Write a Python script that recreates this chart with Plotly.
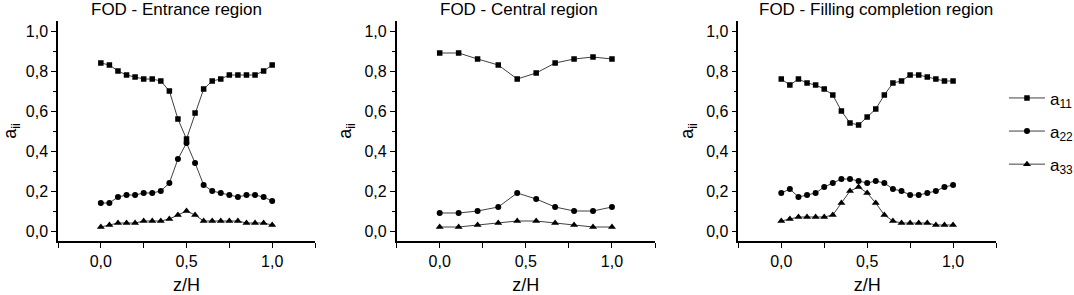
import plotly.graph_objects as go

# ---------------- data ----------------
z_fine = [0.0, 0.05, 0.10, 0.15, 0.20, 0.25, 0.30, 0.35, 0.40, 0.45, 0.50,
          0.55, 0.60, 0.65, 0.70, 0.75, 0.80, 0.85, 0.90, 0.95, 1.0]
z_central = [0.0, 0.11, 0.22, 0.34, 0.45, 0.56, 0.67, 0.78, 0.89, 1.0]

ent_a11 = [0.84, 0.83, 0.80, 0.78, 0.77, 0.76, 0.76, 0.75, 0.70, 0.56, 0.46,
           0.59, 0.71, 0.75, 0.76, 0.78, 0.78, 0.78, 0.78, 0.80, 0.83]
ent_a22 = [0.14, 0.14, 0.17, 0.18, 0.18, 0.19, 0.19, 0.20, 0.24, 0.36, 0.44,
           0.34, 0.23, 0.20, 0.19, 0.18, 0.17, 0.18, 0.18, 0.17, 0.15]
ent_a33 = [0.02, 0.03, 0.04, 0.04, 0.04, 0.05, 0.05, 0.05, 0.06, 0.08, 0.10,
           0.08, 0.05, 0.05, 0.05, 0.05, 0.05, 0.04, 0.04, 0.04, 0.03]

cen_a11 = [0.89, 0.89, 0.86, 0.83, 0.76, 0.79, 0.84, 0.86, 0.87, 0.86]
cen_a22 = [0.09, 0.09, 0.10, 0.12, 0.19, 0.16, 0.12, 0.10, 0.10, 0.12]
cen_a33 = [0.02, 0.02, 0.03, 0.04, 0.05, 0.05, 0.04, 0.03, 0.02, 0.02]

fil_a11 = [0.76, 0.73, 0.76, 0.74, 0.73, 0.71, 0.68, 0.60, 0.54, 0.53, 0.57,
           0.61, 0.68, 0.74, 0.75, 0.78, 0.78, 0.77, 0.76, 0.75, 0.75]
fil_a22 = [0.19, 0.21, 0.17, 0.18, 0.19, 0.22, 0.24, 0.26, 0.26, 0.25, 0.24,
           0.25, 0.24, 0.21, 0.20, 0.18, 0.18, 0.19, 0.20, 0.22, 0.23]
fil_a33 = [0.05, 0.06, 0.07, 0.07, 0.07, 0.07, 0.08, 0.14, 0.20, 0.22, 0.19,
           0.14, 0.08, 0.05, 0.04, 0.04, 0.04, 0.04, 0.03, 0.03, 0.03]

panel_titles = ["FOD - Entrance region", "FOD - Central region",
                "FOD - Filling completion region"]
series_names = ["a<sub>11</sub>", "a<sub>22</sub>", "a<sub>33</sub>"]
x_tick_vals = [0.0, 0.5, 1.0]
x_tick_text = ["0,0", "0,5", "1,0"]

# ---------------- figure ----------------
FONT = "Liberation Sans, Arial, sans-serif"
symbols = ["square", "circle", "triangle-up"]
msizes = [5.5, 6, 7]

panels = [
    (z_fine, [ent_a11, ent_a22, ent_a33]),
    (z_central, [cen_a11, cen_a22, cen_a33]),
    (z_fine, [fil_a11, fil_a22, fil_a33]),
]

fig = go.Figure()
for p, (zx, ys) in enumerate(panels):
    xa = "x" if p == 0 else f"x{p+1}"
    ya = "y" if p == 0 else f"y{p+1}"
    for s, yv in enumerate(ys):
        fig.add_trace(go.Scatter(
            x=zx, y=yv, mode="lines+markers",
            name=series_names[s],
            legendgroup=f"g{s}",
            showlegend=(p == 0),
            line=dict(color="#404040", width=1),
            marker=dict(symbol=symbols[s], size=msizes[s], color="black"),
            xaxis=xa, yaxis=ya,
        ))

domains = [[0.0, 0.274], [0.361, 0.6365], [0.7253, 1.0]]
title_x = [0.1258, 0.492, 0.872]

layout = dict(
    template="none",
    width=1074, height=295,
    margin=dict(l=58, r=78, t=21, b=54, autoexpand=False),
    paper_bgcolor="white", plot_bgcolor="white",
    separators=",.",
    font=dict(family=FONT, size=16, color="black"),
    legend=dict(
        x=1.0085, xanchor="left", y=0.73, yanchor="top",
        font=dict(family=FONT, size=17, color="black"),
        traceorder="grouped", tracegroupgap=8,
        itemwidth=36, bgcolor="rgba(0,0,0,0)", borderwidth=0,
    ),
    annotations=[],
)

for p in range(3):
    sx = "" if p == 0 else str(p + 1)
    layout[f"xaxis{sx}"] = dict(
        domain=domains[p], range=[-0.25, 1.25], anchor=f"y{sx}",
        automargin=False,
        showgrid=False, zeroline=False, showline=True,
        linecolor="black", linewidth=1.5, mirror=False,
        ticks="outside", ticklen=5, tickwidth=1.2, tickcolor="black",
        tickvals=x_tick_vals, ticktext=x_tick_text,
        minor=dict(tickvals=[-0.25, 0.25, 0.75, 1.25], ticks="outside",
                   ticklen=5, tickwidth=1.2, tickcolor="black", showgrid=False),
        tickfont=dict(family=FONT, size=16, color="black"),
        title=dict(text="z/H", font=dict(family=FONT, size=18, color="black"),
                   standoff=12),
    )
    layout[f"yaxis{sx}"] = dict(
        domain=[0, 1], range=[-0.05, 1.05], anchor=f"x{sx}",
        automargin=False,
        showgrid=False, zeroline=False, showline=True,
        linecolor="black", linewidth=1.5, mirror=False,
        ticks="outside", ticklen=5, tickwidth=1.2, tickcolor="black",
        tick0=0, dtick=0.2, tickformat=".1f",
        minor=dict(tick0=0, dtick=0.1, ticks="outside", ticklen=3,
                   tickwidth=1.2, tickcolor="black", showgrid=False),
        tickfont=dict(family=FONT, size=16, color="black"),
        title=dict(text="a<sub>ii</sub>",
                   font=dict(family=FONT, size=18, color="black"),
                   standoff=8),
    )
    layout["annotations"].append(dict(
        text=panel_titles[p], xref="paper", yref="paper",
        x=title_x[p], y=1.052, xanchor="center", yanchor="middle",
        showarrow=False, font=dict(family=FONT, size=17, color="black"),
    ))

fig.update_layout(**layout)
fig.write_html(
    "out.html",
    config={"displayModeBar": False},
    post_script="document.body.style.margin='0';document.body.style.padding='0';",
)
